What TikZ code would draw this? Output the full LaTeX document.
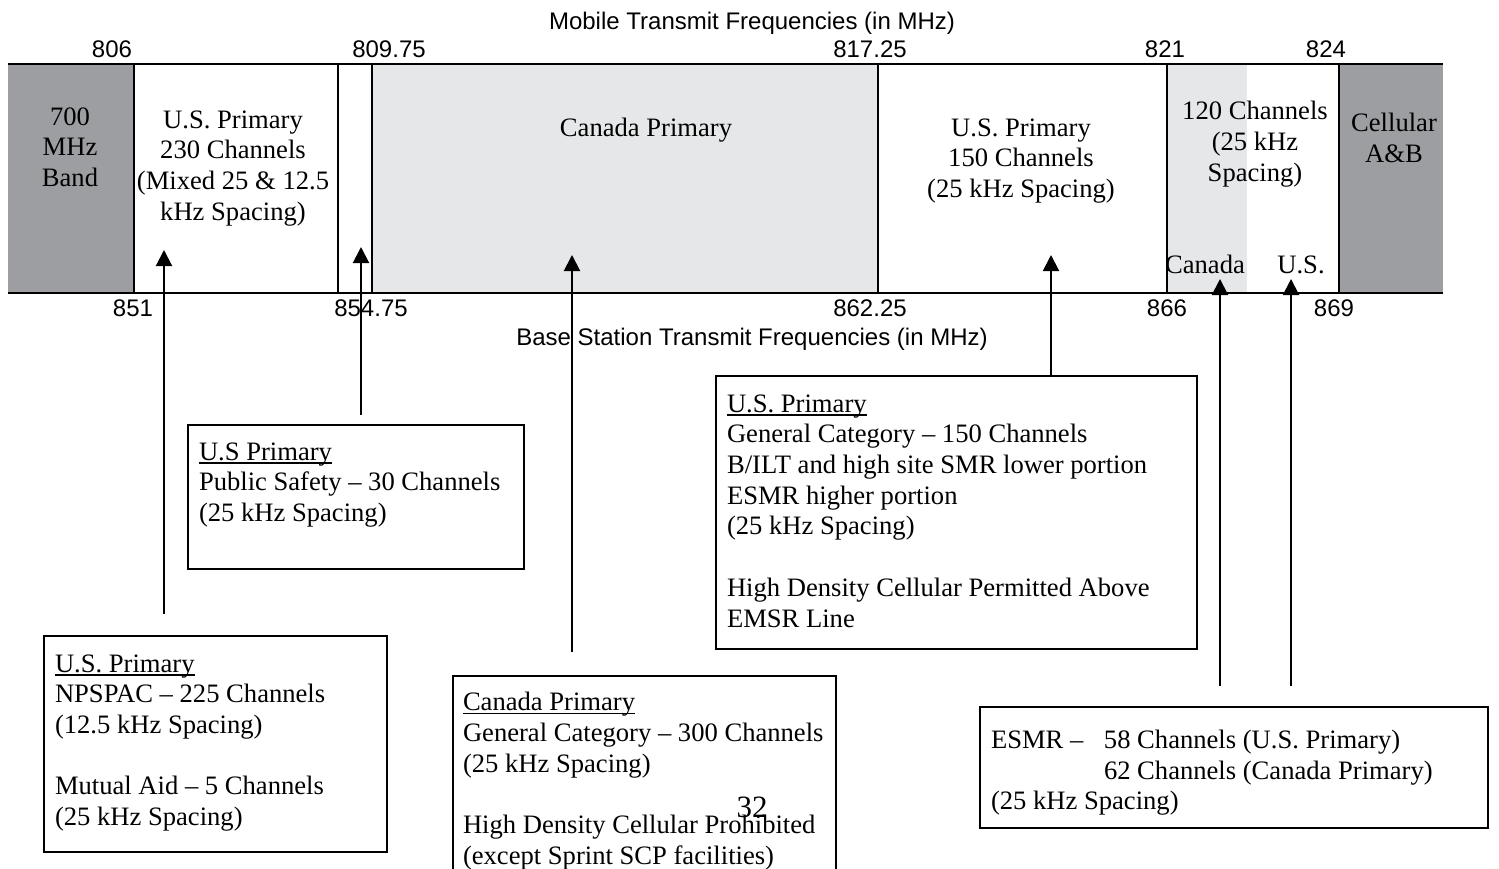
\documentclass[tikz,border=0pt]{standalone}
\usepackage{fontspec}
\setmainfont{Liberation Serif}
\setsansfont{Liberation Sans}
\usetikzlibrary{arrows.meta, positioning}
\definecolor{bandgray}{RGB}{157,158,161}
\definecolor{canadagray}{RGB}{230,231,232}
\newcommand{\hdr}[1]{\setbox0=\hbox{#1}\rlap{\rule[-3.5pt]{\wd0}{1.4pt}}\box0}

\begin{document}
\begin{tikzpicture}[x=1pt, y=-1pt, line width=2pt,
    serif/.style={font=\fontsize{26.6}{30.7}\selectfont, inner sep=0pt},
    freq/.style={font=\sffamily\fontsize{24}{28}\selectfont, inner sep=0pt, anchor=base},
    band/.style={serif, align=center, anchor=north},
    notebox/.style={draw, line width=2pt, anchor=north west, inner sep=0pt},
    note/.style={serif, align=left, anchor=north west},
    uparrow/.style={-{Triangle[width=16pt,length=16pt]}, line width=2pt}]
  \useasboundingbox (0,0) rectangle (1499,869);

  % spectrum band
  \fill[bandgray] (8,64) rectangle (134,293);
  \fill[canadagray] (372,64) rectangle (878,293);
  \fill[canadagray] (1167,64) rectangle (1247,293);
  \fill[bandgray] (1339,64) rectangle (1443,293);
  \draw (8,64) -- (1443,64);
  \draw (8,293) -- (1443,293);
  \foreach \x in {134,338,372,878,1167,1339}
    \draw (\x,64) -- (\x,293);

  % frequency labels
  \node[freq] (mobile) at (752,30) {Mobile Transmit Frequencies (in MHz)};
  \node[freq] (m806) at (112,58) {806};
  \node[freq] (m809) at (389,58) {809.75};
  \node[freq] (m817) at (870,58) {817.25};
  \node[freq] (m821) at (1165,58) {821};
  \node[freq] (m824) at (1326,58) {824};
  \node[freq] (b851) at (133,316) {851};
  \node[freq] (b854) at (371,316) {854.75};
  \node[freq] (b862) at (870,316) {862.25};
  \node[freq] (b866) at (1167,316) {866};
  \node[freq] (b869) at (1334,316) {869};
  \node[freq] (base) at (752,345) {Base Station Transmit Frequencies (in MHz)};

  % band texts
  \node[band] (mhz700) at (70,106.5) {700\\MHz\\Band};
  \node[band] (us230) at (233,109.5) {U.S. Primary\\230 Channels\\(Mixed 25 \& 12.5\\kHz Spacing)};
  \node[band] (canprim) at (646,117.5) {Canada Primary};
  \node[band] (us150) at (1021,117.5) {U.S. Primary\\150 Channels\\(25 kHz Spacing)};
  \node[band] (ch120) at (1255,100.5) {120 Channels\\(25 kHz\\Spacing)};
  \node[band] (cellab) at (1394,112.5) {Cellular\\A\&B};
  \node[serif, anchor=base] (canlbl) at (1205,273) {Canada};
  \node[serif, anchor=base] (uslbl) at (1301,273) {U.S.};

  % note boxes
  \node[notebox, minimum width=336pt, minimum height=144pt] (safety) at (187,424) {};
  \node[note] (safetytxt) at ([shift={(11,17.5)}]safety.north west)
    {\hdr{U.S Primary}\\Public Safety – 30 Channels\\(25 kHz Spacing)};

  \node[notebox, minimum width=343pt, minimum height=216pt] (npspac) at (43,635) {};
  \node[note] (npspactxt) at ([shift={(11,18.5)}]npspac.north west)
    {\hdr{U.S. Primary}\\NPSPAC – 225 Channels\\(12.5 kHz Spacing)\\[30.7pt]
     Mutual Aid – 5 Channels\\(25 kHz Spacing)};

  \node[notebox, minimum width=383pt, minimum height=215pt] (canada) at (452,675) {};
  \node[note] (canadatxt) at ([shift={(10,16.5)}]canada.north west)
    {\hdr{Canada Primary}\\General Category – 300 Channels\\(25 kHz Spacing)\\[30.7pt]
     High Density Cellular Prohibited\\(except Sprint SCP facilities)};

  \node[notebox, minimum width=481pt, minimum height=273pt] (general) at (715,375) {};
  \node[note] (generaltxt) at ([shift={(11,18.5)}]general.north west)
    {\hdr{U.S. Primary}\\General Category – 150 Channels\\B/ILT and high site SMR lower portion\\
     ESMR higher portion\\(25 kHz Spacing)\\[30.7pt]
     High Density Cellular Permitted Above\\EMSR Line};

  \node[notebox, minimum width=508pt, minimum height=121pt] (esmr) at (979,706) {};
  \node[note] (esmrtxt) at ([shift={(11,23)}]esmr.north west)
    {\makebox[113pt][l]{ESMR –}58 Channels (U.S. Primary)\\
     \hspace*{113pt}62 Channels (Canada Primary)\\(25 kHz Spacing)};

  \node[serif, font=\fontsize{31}{36}\selectfont, anchor=base] (pagenum) at (752,817) {32};

  % arrows from notes up to the band
  \coordinate (npTip) at (164,250);
  \coordinate (npFoot) at (164,614);
  \coordinate (psTip) at (361,247);
  \coordinate (psFoot) at (361,415);
  \coordinate (caTip) at (572,255);
  \coordinate (caFoot) at (572,652);
  \coordinate (gcTip) at (1051,255);
  \coordinate (gcFoot) at (1051,375);
  \coordinate (ecTip) at (1220,279);
  \coordinate (ecFoot) at (1220,686);
  \coordinate (euTip) at (1291,279);
  \coordinate (euFoot) at (1291,686);
  \foreach \a in {np,ps,ca,gc,ec,eu}
    \draw[uparrow] (\a Foot) -- (\a Tip);
\end{tikzpicture}
\end{document}
